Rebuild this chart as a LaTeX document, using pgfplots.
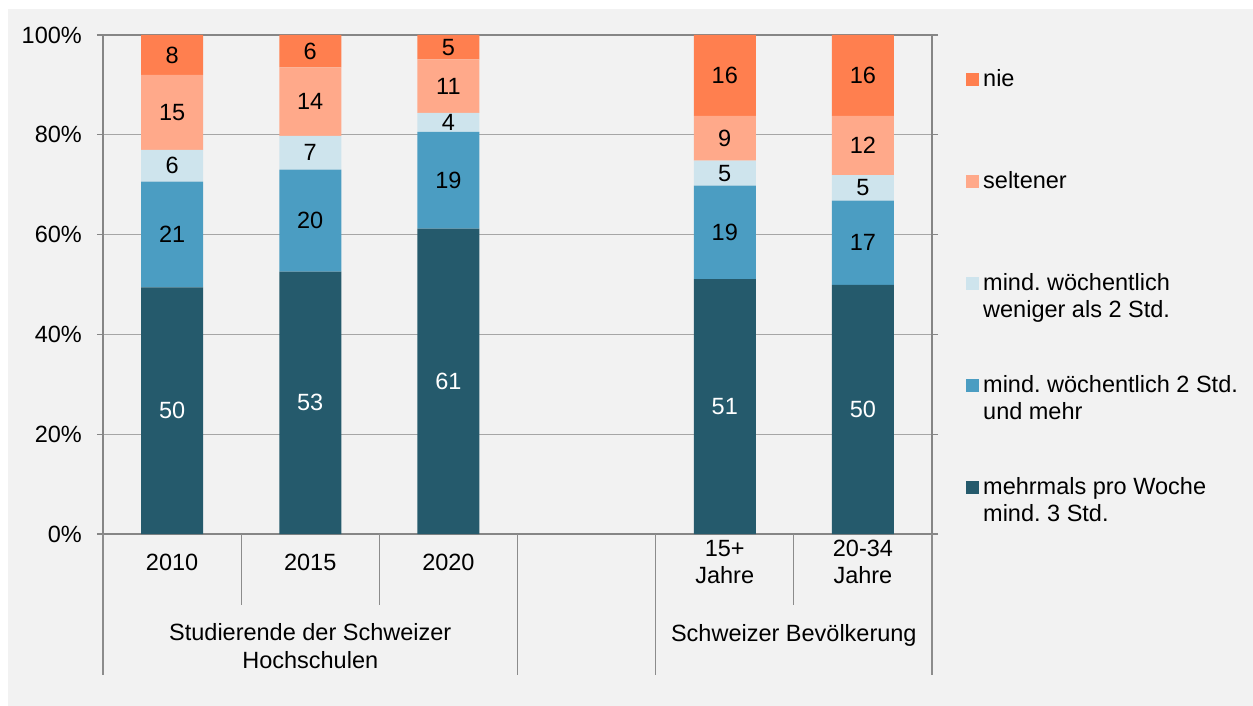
\documentclass[border=0pt]{standalone}
\usepackage{fontspec}
\setmainfont{Liberation Sans}
\usepackage{pgfplots}
\usepackage{pgfplotstable}
\pgfplotsset{compat=1.18}
\definecolor{cdark}{RGB}{37,90,108}
\definecolor{cblue}{RGB}{75,157,194}
\definecolor{clb}{RGB}{206,228,237}
\definecolor{csal}{RGB}{255,169,138}
\definecolor{cora}{RGB}{255,127,79}
\definecolor{bg}{RGB}{242,242,242}
\definecolor{axgray}{RGB}{134,134,134}
\definecolor{gridgray}{RGB}{166,166,166}
\definecolor{sepgray}{RGB}{140,140,140}

\pgfplotstableread{
x y lab
0 49.4 50
1 52.6 53
2 61.2 61
4 51.1 51
5 49.9 50
}\tDark
\pgfplotstableread{
x y lab
0 21.2 21
1 20.4 20
2 19.4 19
4 18.7 19
5 16.9 17
}\tBlue
\pgfplotstableread{
x y lab
0 6.4 6
1 6.8 7
2 3.8 4
4 5.0 5
5 5.1 5
}\tLb
\pgfplotstableread{
x y lab
0 15.0 15
1 13.7 14
2 10.7 11
4 9.0 9
5 11.9 12
}\tSal
\pgfplotstableread{
x y lab
0 8.0 8
1 6.5 6
2 4.9 5
4 16.2 16
5 16.2 16
}\tOra

\begin{document}
\fontsize{23.5bp}{27.5bp}\selectfont
\begin{tikzpicture}
\fill[white] (-103bp,-172bp) rectangle (1150bp,534bp);
\fill[bg] (-95bp,-172bp) rectangle (1150bp,525bp);
\useasboundingbox (-103bp,-172bp) rectangle (1150bp,534bp);
\begin{axis}[
  scale only axis,
  width=829bp, height=499bp,
  at={(0,0)}, anchor=south west,
  ybar stacked,
  bar width=62bp,
  xmin=-0.5, xmax=5.5,
  ymin=0, ymax=100,
  xtick={0,1,2,4,5},
  xticklabels={2010,2015,2020,{15+\\Jahre},{20-34\\Jahre}},
  xticklabel style={align=center, anchor=center, yshift=-22bp, inner sep=0pt},
  ytick={0,20,40,60,80,100},
  yticklabels={0\%,20\%,40\%,60\%,80\%,100\%},
  yticklabel style={anchor=east, inner sep=0pt, xshift=-15bp},
  major tick length=6bp,
  tick align=outside,
  major x tick style={draw=none},
  major y tick style={draw=axgray, line width=1.2bp},
  ymajorgrids,
  grid style={draw=gridgray, line width=1.2bp},
  axis line style={draw=axgray, line width=2bp},
  axis background/.style={fill=bg},
  clip=false,
  reverse legend,
  legend image code/.code={\fill[#1,draw=none] (0bp,0.5bp) rectangle (13bp,13.5bp);},
  legend style={at={(1.04101,0.93186)}, anchor=north west, draw=none, fill=none,
    inner sep=0pt, row sep=50bp,
    cells={anchor=base west},
    nodes={inner sep=0pt, text height=17bp, text depth=35bp},
    /tikz/every odd column/.append style={column sep=4bp}},
  point meta=explicit symbolic,
  nodes near coords,
  every node near coord/.append style={anchor=center, inner sep=0pt},
]
\addplot[fill=cdark, draw=none, every node near coord/.append style={text=white}] table[x=x,y=y,meta=lab]{\tDark};
\addlegendentry{\vtop{\hbox{mehrmals pro Woche}\hbox{mind.\ 3 Std.}}}
\addplot[fill=cblue, draw=none, every node near coord/.append style={text=black}] table[x=x,y=y,meta=lab]{\tBlue};
\addlegendentry{\vtop{\hbox{mind.\ wöchentlich 2 Std.}\hbox{und mehr}}}
\addplot[fill=clb, draw=none, every node near coord/.append style={text=black}] table[x=x,y=y,meta=lab]{\tLb};
\addlegendentry{\vtop{\hbox{mind.\ wöchentlich}\hbox{weniger als 2 Std.}}}
\addplot[fill=csal, draw=none, every node near coord/.append style={text=black}] table[x=x,y=y,meta=lab]{\tSal};
\addlegendentry{seltener}
\addplot[fill=cora, draw=none, every node near coord/.append style={text=black}] table[x=x,y=y,meta=lab]{\tOra};
\addlegendentry{nie}

\draw[sepgray, line width=1.2bp] (axis cs:-0.5,0) -- ++(0bp,-141bp);
\draw[sepgray, line width=1.2bp] (axis cs:2.5,0) -- ++(0bp,-141bp);
\draw[sepgray, line width=1.2bp] (axis cs:3.5,0) -- ++(0bp,-141bp);
\draw[sepgray, line width=1.2bp] (axis cs:5.5,0) -- ++(0bp,-141bp);
\draw[sepgray, line width=1.2bp] (axis cs:0.5,0) -- ++(0bp,-71bp);
\draw[sepgray, line width=1.2bp] (axis cs:1.5,0) -- ++(0bp,-71bp);
\draw[sepgray, line width=1.2bp] (axis cs:4.5,0) -- ++(0bp,-71bp);
\node[align=center, anchor=base] at ([yshift=-134.4bp]axis cs:1,0) {Studierende der Schweizer\\Hochschulen};
\node[anchor=base] at ([yshift=-107.4bp]axis cs:4.5,0) {Schweizer Bevölkerung};
\end{axis}
\end{tikzpicture}
\end{document}
